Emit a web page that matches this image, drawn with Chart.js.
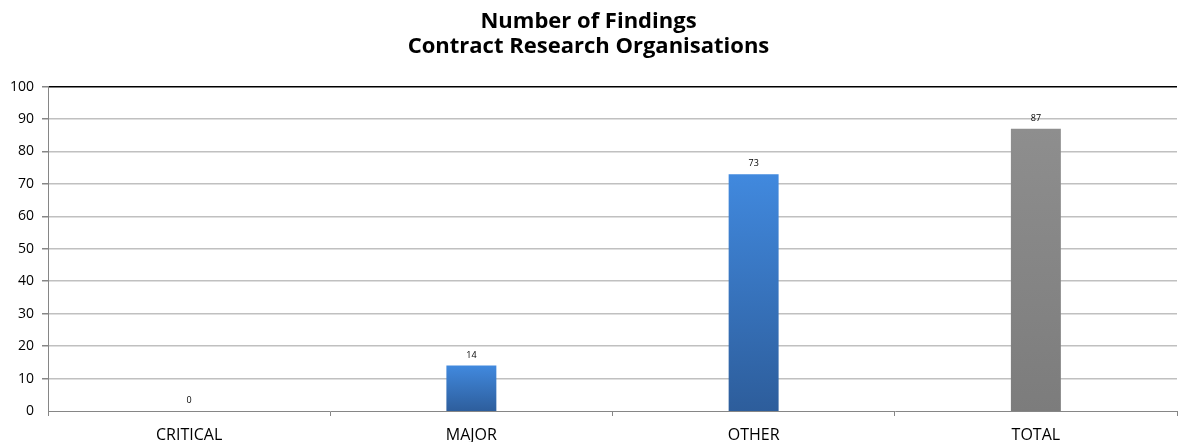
<!DOCTYPE html>
<html>
<head>
<meta charset="utf-8">
<script src="https://cdn.jsdelivr.net/npm/chart.js@4"></script>
<style>
  html, body { margin: 0; padding: 0; background: #fff; }
  #wrap { width: 1178px; height: 442px; }
</style>
</head>
<body>
<div id="wrap"><canvas id="chart" width="1178" height="442"></canvas></div>
<script>
const categories = ["CRITICAL", "MAJOR", "OTHER", "TOTAL"];
const findings = [0, 14, 73, 87];
const yTicks = [0, 10, 20, 30, 40, 50, 60, 70, 80, 90, 100];
const titleLines = ["Number of Findings", "Contract Research Organisations"];

const FONT = "'Open Sans', Lato, sans-serif";

// vertical shade per bar, blue for the parts and grey for the total
function barFill(ctx) {
  const chart = ctx.chart;
  const i = ctx.dataIndex;
  if (!chart.chartArea || ctx.parsed === undefined) return "#3d78c8";
  const y = chart.scales.y;
  const top = y.getPixelForValue(ctx.parsed.y);
  const bottom = y.getPixelForValue(0);
  const g = chart.ctx.createLinearGradient(0, top, 0, bottom + 1);
  if (categories[i] === "TOTAL") {
    g.addColorStop(0, "#8e8e8e");
    g.addColorStop(1, "#7c7c7c");
  } else {
    g.addColorStop(0, "#4189de");
    g.addColorStop(1, "#2d5d9b");
  }
  return g;
}

// side shading on top of the fill for the bevelled look
function barBevel(ctx) {
  const chart = ctx.chart;
  const el = ctx.element;
  if (!chart.chartArea || !el || !el.width) return "rgba(0,0,0,0)";
  const l = el.x - el.width / 2, r = el.x + el.width / 2;
  const g = chart.ctx.createLinearGradient(l, 0, r, 0);
  g.addColorStop(0, "rgba(255,255,255,0.30)");
  g.addColorStop(0.07, "rgba(255,255,255,0.10)");
  g.addColorStop(0.5, "rgba(255,255,255,0)");
  g.addColorStop(0.9, "rgba(0,0,0,0.06)");
  g.addColorStop(1, "rgba(0,0,0,0.30)");
  return g;
}

const valueLabels = {
  id: "valueLabels",
  afterDatasetsDraw(chart) {
    const c = chart.ctx;
    const meta = chart.getDatasetMeta(0);
    c.save();
    c.font = "9px " + FONT;
    c.fillStyle = "#000";
    c.textAlign = "center";
    c.textBaseline = "bottom";
    meta.data.forEach((bar, i) => {
      c.fillText(String(findings[i]), bar.x, bar.y - 6);
    });
    c.restore();
  }
};

new Chart(document.getElementById("chart"), {
  type: "bar",
  data: {
    labels: categories,
    datasets: [
      {
        data: findings,
        backgroundColor: barFill,
        borderWidth: 0,
        grouped: false,
        categoryPercentage: 1,
        barPercentage: 0.177
      },
      {
        data: findings,
        backgroundColor: barBevel,
        borderWidth: 0,
        grouped: false,
        categoryPercentage: 1,
        barPercentage: 0.177
      }
    ]
  },
  options: {
    responsive: false,
    animation: false,
    events: [],
    layout: { padding: { left: 0, right: 1, top: 0, bottom: 0 } },
    plugins: {
      legend: { display: false },
      tooltip: { enabled: false },
      title: {
        display: true,
        text: titleLines,
        color: "#000",
        font: { family: FONT, size: 22, weight: "bold", lineHeight: 1.15 },
        padding: { top: 9, bottom: 27 }
      }
    },
    scales: {
      x: {
        offset: true,
        grid: {
          display: true,
          drawOnChartArea: false,
          offset: true,
          tickLength: 5,
          tickColor: "#868686"
        },
        border: { color: "#868686", width: 1 },
        ticks: {
          color: "#000",
          font: { family: FONT, size: 16 },
          padding: 10
        },
        afterFit(s) { s.height = 31; }
      },
      y: {
        min: 0,
        max: 100,
        afterBuildTicks(s) { s.ticks = yTicks.map(v => ({ value: v })); },
        grid: {
          color: ctx => (ctx.tick && ctx.tick.value === 100 ? "#000" : "#c0c0c0"),
          lineWidth: ctx => (ctx.tick && ctx.tick.value === 0 ? 0 : 1.5),
          tickLength: 6,
          tickColor: "#868686"
        },
        border: { color: "#868686", width: 1 },
        ticks: {
          color: "#000",
          font: { family: FONT, size: 14 },
          padding: 8
        },
        afterFit(s) { s.width = 48; }
      }
    }
  },
  plugins: [valueLabels]
});
</script>
</body>
</html>
